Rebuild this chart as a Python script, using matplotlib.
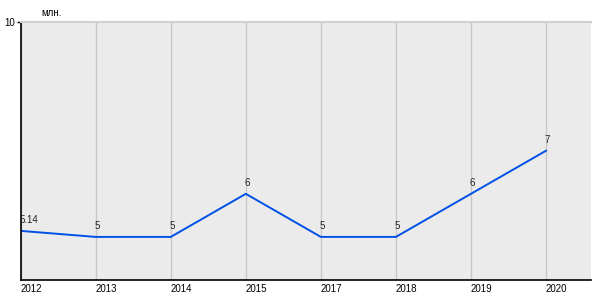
import matplotlib.pyplot as plt

years = [2012, 2013, 2014, 2015, 2017, 2018, 2019, 2020]
values = [5.14, 5, 5, 6, 5, 5, 6, 7]
value_labels = ['5.14', '5', '5', '6', '5', '5', '6', '7']

plt.rcParams['font.family'] = ['Liberation Sans', 'DejaVu Sans']

fig = plt.figure(figsize=(6, 3), dpi=100)
ax = fig.add_axes([0.0345, 0.0667, 0.9505, 0.8616])
ax.set_facecolor('#ebebeb')

# positions are evenly spaced (2016 is missing in the data)
xs = list(range(len(years)))
ax.plot(xs, values, color='#0050e6', lw=1.4)

for x, v, lab in zip(xs, values, value_labels):
    ax.annotate(lab, (x, v), xytext=(-1, 4), textcoords='offset points',
                ha='left', va='bottom', fontsize=7, color='#222222')

ax.set_xlim(0, 7.6)
ax.set_ylim(4, 10)
ax.set_xticks(xs)
ax.set_xticklabels([str(y) for y in years], ha='left', fontsize=7)
ax.tick_params(axis='x', length=0, pad=3)
for lbl in ax.get_xticklabels():
    lbl.set_x(lbl.get_position()[0])
ax.set_yticks([10])
ax.set_yticklabels(['10'], fontsize=7)
ax.tick_params(axis='y', length=3, width=1, pad=1)
ax.grid(axis='x', color='#c8c8c8', lw=1)
ax.set_axisbelow(True)

ax.spines['right'].set_visible(False)
ax.spines['top'].set_color('#d0d0d0')
ax.spines['top'].set_linewidth(1.5)
ax.spines['left'].set_color('black')
ax.spines['bottom'].set_color('black')
ax.spines['left'].set_linewidth(1.2)
ax.spines['bottom'].set_linewidth(1.2)

ax.text(0.037, 1.015, 'млн.', transform=ax.transAxes, fontsize=7,
        ha='left', va='bottom')

fig.savefig('out.png', dpi=100)
